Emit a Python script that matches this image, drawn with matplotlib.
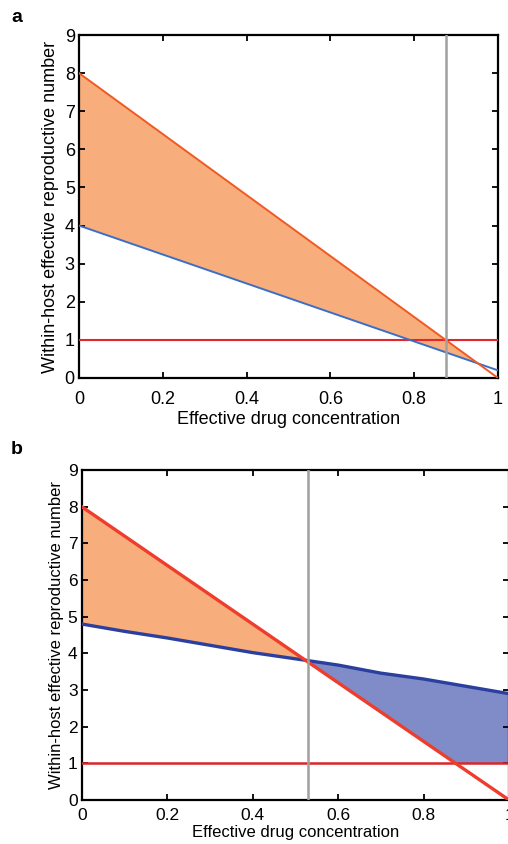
import numpy as np
import matplotlib
matplotlib.use("Agg")
import matplotlib.pyplot as plt

plt.rcParams['font.family'] = ['Liberation Sans', 'DejaVu Sans']

# panel a
conc_a = [0.0, 1.0]
r_drug_a = [8.0, 0.0]      # orange line
r_res_a = [4.0, 0.2]       # blue line
cross_a = 0.875

# panel b
conc_b = [0.0, 0.1, 0.2, 0.3, 0.4, 0.53, 0.6, 0.7, 0.8, 0.9, 1.0]
r_drug_b = [8.0, 7.2, 6.4, 5.6, 4.8, 3.76, 3.2, 2.4, 1.6, 0.8, 0.0]
r_res_b = [4.8, 4.6, 4.42, 4.22, 4.02, 3.8, 3.68, 3.46, 3.3, 3.1, 2.9]
cross_b = 0.53

threshold = 1.0
xticks = [0, 0.2, 0.4, 0.6, 0.8, 1.0]
xticklabels = ['0', '0.2', '0.4', '0.6', '0.8', '1']
yticks = list(range(10))

W, H = 508, 844
fig = plt.figure(figsize=(W / 100, H / 100), dpi=100)

def style(ax, tick_fs, lab_fs, xpad, xlp, ylp):
    ax.set_xlim(0, 1)
    ax.set_ylim(0, 9)
    ax.set_xticks(xticks)
    ax.set_xticklabels(xticklabels)
    ax.set_yticks(yticks)
    ax.tick_params(direction='in', top=True, right=True, length=4, width=1.3,
                   labelsize=tick_fs)
    ax.tick_params(axis='x', pad=xpad)
    ax.tick_params(axis='y', pad=3)
    for s in ax.spines.values():
        s.set_linewidth(1.6)
    ax.set_xlabel('Effective drug concentration', fontsize=lab_fs, labelpad=xlp)
    ax.set_ylabel('Within-host effective reproductive number', fontsize=lab_fs, labelpad=ylp)

# ---- a ----
ax1 = fig.add_axes([79 / W, 1 - 378 / H, (498 - 79) / W, (378 - 35) / H])
xa = np.linspace(0, 1, 201)
da = np.interp(xa, conc_a, r_drug_a)
ra = np.interp(xa, conc_a, r_res_a)
ax1.fill_between(xa, ra, da, where=da >= ra, color='#f7ae7c', lw=0, interpolate=True)
ax1.axhline(threshold, color='#e3262b', lw=1.5, zorder=3)
ax1.plot(conc_a, r_res_a, color='#3b6fc6', lw=1.4, zorder=4)
ax1.plot(conc_a, r_drug_a, color='#f05a22', lw=1.4, zorder=4)
ax1.axvline(cross_a, color='#a0a0a0', lw=1.8, zorder=5)
style(ax1, 13, 13, 9, 2.5, 4)
fig.text(17 / W, 1 - 18 / H, 'a', fontsize=14, fontweight='bold', ha='center', va='center')

# ---- b ----
ax2 = fig.add_axes([81.7 / W, 1 - 800 / H, (509 - 81.7) / W, (800 - 470) / H])
xb = np.linspace(0, 1, 401)
db = np.interp(xb, conc_b, r_drug_b)
rb = np.interp(xb, conc_b, r_res_b)
ax2.fill_between(xb, rb, db, where=db >= rb, color='#f7ae7c', lw=0, interpolate=True)
ax2.fill_between(xb, np.maximum(db, threshold), rb, where=rb >= db,
                 color='#7f8cc8', lw=0, interpolate=True)
ax2.axhline(threshold, color='#d9262b', lw=1.8, zorder=3)
ax2.plot(conc_b, r_res_b, color='#2b3f9e', lw=2.4, zorder=4)
ax2.plot(conc_b, r_drug_b, color='#ee3d2c', lw=2.4, zorder=4)
ax2.axvline(cross_b, color='#a0a0a0', lw=1.8, zorder=5)
style(ax2, 12.5, 12, 5.5, 2, 3)
fig.text(17 / W, 1 - 449 / H, 'b', fontsize=14, fontweight='bold', ha='center', va='center')

fig.savefig('out.png', dpi=100)
